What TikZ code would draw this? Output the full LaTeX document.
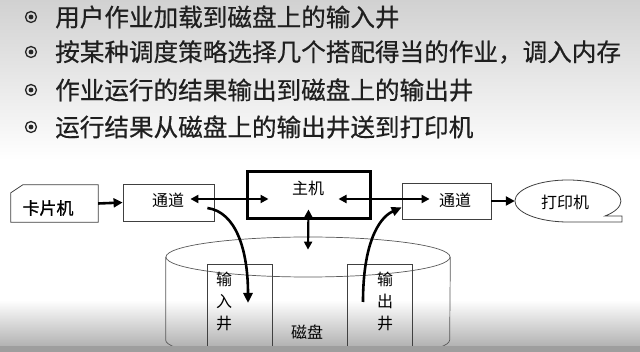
\documentclass[tikz,border=0pt]{standalone}
\usepackage{fontspec}
\newfontfamily\cjk{Noto Sans CJK SC}
\newfontfamily\cjkm{Noto Sans CJK SC}[FakeBold=0.5]
\newfontfamily\cjkb{Noto Sans CJK SC}[FakeBold=1.2]
\usetikzlibrary{arrows.meta,shapes.geometric}

\tikzset{
  bullettext/.style={anchor=west, inner sep=0pt, text=black!88,
    font=\cjkm\fontsize{24.6}{28}\selectfont},
  bulletring/.style={circle, draw=black!85, line width=1.3pt,
    minimum size=11pt, inner sep=0pt},
  lbl/.style={inner sep=0pt, font=\cjk\fontsize{16}{22}\selectfont},
  plainbox/.style={rectangle, draw=black!75, line width=0.8pt, inner sep=0pt},
  hostbox/.style={rectangle, draw=black, line width=3pt, inner sep=0pt},
  thin/.style={draw=black!65, line width=0.7pt},
  arr/.style={line width=2.6pt, -{Triangle[length=9pt,width=9pt]}},
  dbl/.style={line width=2.2pt, {Triangle[length=8pt,width=8pt]}-{Triangle[length=8pt,width=8pt]}},
  curved/.style={line width=2.6pt, -{Triangle[length=10pt,width=9pt]}}
}

\begin{document}
\begin{tikzpicture}[x=1pt,y=-1pt]
  % page background: grey at the top, white band, grey foot
  \useasboundingbox (0,0) rectangle (640,352);
  \shade[top color=black!18, bottom color=white] (0,0) rectangle (640,160);
  \fill[white] (0,160) rectangle (640,300);
  \shade[top color=white, bottom color=black!30] (0,300) rectangle (640,346);
  \fill[black!38] (0,346) rectangle (640,352);
  \clip (0,0) rectangle (640,346);

  % bullet list
  \foreach \i/\yy/\txt in {1/17/用户作业加载到磁盘上的输入井,
      2/52/按某种调度策略选择几个搭配得当的作业，调入内存,
      3/90/作业运行的结果输出到磁盘上的输出井,
      4/127/运行结果从磁盘上的输出井送到打印机}{
    \node[bulletring] (b\i) at (31,\yy) {};
    \fill[black!85] (b\i.center) circle[radius=2.4pt];
    \node[bullettext] (t\i) at (55,\yy) {\txt};
  }

  % disk
  \node[ellipse, thin, minimum width=284pt, minimum height=40pt, inner sep=0pt] (disk) at (308,257) {};
  \draw[thin] (disk.west) -- ++(0,83) arc[start angle=180, end angle=360, x radius=142pt, y radius=20pt] -- (disk.east);
  \node[lbl] (disktxt) at (307,332) {磁盘};

  % spool areas on the disk
  \node[plainbox, minimum width=65pt, minimum height=82pt] (inwell) at (239.5,305) {};
  \node[lbl, align=center] (inwelltxt) at (224,301) {输\\入\\井};
  \node[plainbox, minimum width=65pt, minimum height=82pt] (outwell) at (379.5,305) {};
  \node[lbl, align=center] (outwelltxt) at (385,301) {输\\出\\井};

  % card reader
  \node[minimum width=87pt, minimum height=37pt, inner sep=0pt] (card) at (54.5,203.5) {};
  \draw[black!75, line width=0.8pt] (card.south west) -- ([yshift=-8pt]card.north west)
     -- ([xshift=12pt]card.north west) -- (card.north east) -- (card.south east) -- cycle;
  \node[inner sep=0pt, font=\cjkb\fontsize{17}{20}\selectfont] (cardtxt) at (48,208) {卡片机};

  % channels and host
  \node[plainbox, minimum width=91pt, minimum height=37pt] (lch) at (168.5,202.5) {};
  \node[lbl] (lchtxt) at (168,200) {通道};
  \node[hostbox, minimum width=123pt, minimum height=47pt] (host) at (308.5,195.5) {};
  \node[lbl] (hosttxt) at (308,188) {主机};
  \node[plainbox, minimum width=89pt, minimum height=36pt] (rch) at (446.5,201) {};
  \node[lbl] (rchtxt) at (455,200) {通道};

  % printer
  \node[ellipse, minimum width=106pt, minimum height=42pt, inner sep=0pt] (printer) at (568,201) {};
  \draw[black!75, line width=0.8pt] ([xshift=37pt,yshift=-15pt]printer.center)
     arc[start angle=-45.6, end angle=270, x radius=53pt, y radius=21pt]
     -- ++(54,0) -- ++(0,-6) -- cycle;
  \node[lbl] (printertxt) at (565,202) {打印机};

  % data flow
  \draw[arr] (card.east) -- (lch.west);
  \draw[dbl] ([xshift=-24pt,yshift=3.5pt]lch.east) -- ([xshift=23pt,yshift=-3.5pt]host.west);
  \draw[dbl] ([xshift=-33pt,yshift=-3.5pt]host.east) -- ([xshift=28pt,yshift=2pt]rch.west);
  \draw[arr] (rch.east) -- (printer.west);
  \draw[dbl] ([yshift=11pt]host.south) -- ([yshift=-13pt]disk.north);
  \draw[curved] ([xshift=-7pt,yshift=-5.5pt]lch.east) .. controls (236,212) and (248,250) .. ([xshift=8.5pt,yshift=2pt]inwell.center);
  \draw[curved] ([xshift=-16.5pt,yshift=3pt]outwell.center) .. controls (363,245) and (378,218) .. ([yshift=12pt]rch.south west);
\end{tikzpicture}
\end{document}
